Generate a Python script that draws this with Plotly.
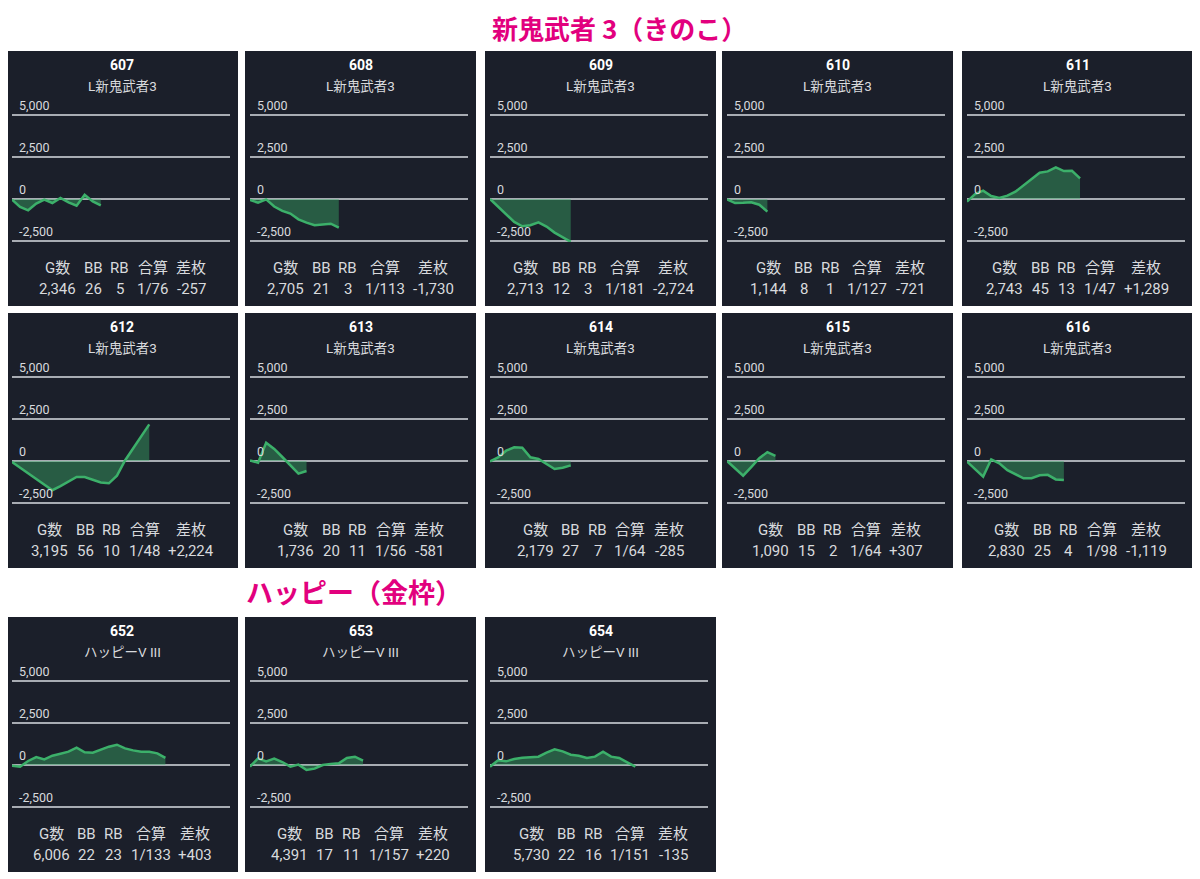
import plotly.graph_objects as go

# the page adds an 8px body margin; the figure is sized and positioned to compensate
PAGE_W, PAGE_H = 1200, 879
OFF = 8
W, H = PAGE_W - OFF, PAGE_H - OFF

# ---------------- data ----------------
machines = ["607", "608", "609", "610", "611", "612", "613", "614", "615", "616", "652", "653", "654"]
models = ["L新鬼武者3"] * 10 + ["ハッピーV III"] * 3
games = ["2,346", "2,705", "2,713", "1,144", "2,743", "3,195", "1,736", "2,179", "1,090", "2,830", "6,006", "4,391", "5,730"]
bb = ["26", "21", "12", "8", "45", "56", "20", "27", "15", "25", "22", "17", "22"]
rb = ["5", "3", "3", "1", "13", "10", "11", "7", "2", "4", "23", "11", "16"]
gassan = ["1/76", "1/113", "1/181", "1/127", "1/47", "1/48", "1/56", "1/64", "1/64", "1/98", "1/133", "1/157", "1/151"]
samai = ["-257", "-1,730", "-2,724", "-721", "+1,289", "+2,224", "-581", "-285", "+307", "-1,119", "+403", "+220", "-135"]
headers = ["G数", "BB", "RB", "合算", "差枚"]

s607 = [-40, -475, -673, -277, -40, -238, 60, -198, -396, 257, -139, -376]
s608 = [-60, -220, -20, -445, -705, -865, -1210, -1410, -1560, -1530, -1470, -1710]
s609 = [0, -455, -911, -1366, -1624, -1564, -1386, -1643, -2000, -2277, -2550]
s610 = [-20, -240, -230, -200, -340, -750]
s611 = [-158, 297, 495, 178, 60, 198, 436, 812, 1168, 1564, 1643, 1881, 1663, 1683, 1228]
s612 = [-59, -388, -719, -1057, -1386, -1740, -1497, -1228, -950, -950, -1117, -1279, -1327, -871, 30, 752, 1465, 2178]
s613 = [40, -100, 1089, 720, 238, -257, -752, -594]
s614 = [-20, 218, 614, 812, 792, 218, 119, -198, -480, -400, -260]
s615 = [0, -436, -871, -364, 162, 530, 307]
s616 = [-40, -485, -931, 100, -139, -545, -792, -1030, -1020, -851, -825, -1097, -1129]
s652 = [-40, -99, 238, 475, 337, 554, 673, 792, 1030, 752, 733, 931, 1089, 1208, 990, 871, 792, 792, 693, 420]
s653 = [-99, 396, 218, 376, 178, -99, 20, -297, -218, 0, 59, 99, 416, 495, 257]
s654 = [-99, 277, 218, 356, 436, 455, 495, 733, 931, 812, 614, 554, 416, 495, 792, 495, 416, 158, -99]
series = [s607, s608, s609, s610, s611, s612, s613, s614, s615, s616, s652, s653, s654]

y_tickvals = [-2500, 0, 2500, 5000]
y_ticktext = ["-2,500", "0", "2,500", "5,000"]
section_titles = ["新鬼武者 3（きのこ）", "ハッピー（金枠）"]

# ---------------- style ----------------
FONT = "Roboto, 'Noto Sans CJK JP', 'Noto Sans', sans-serif"
TITLE_FONT = "'Noto Sans CJK JP', 'Noto Sans', sans-serif"
PANEL_BG = "#1b1f2a"
GRID = "#a8acb3"
TEXT = "#d8dadd"
LINE = "#3cb06a"
FILL = "rgba(60,176,106,0.42)"
MAGENTA = "#e2007e"

panel_w, panel_h = 231, 255
col_left = [7, 245, 485, 722, 962]
row_top = [51, 313, 617]
positions = [(0, c) for c in range(5)] + [(1, c) for c in range(5)] + [(2, c) for c in range(3)]
X_SLOTS = 27
UNITS_PER_PX = 2500 / 42.0
Y_MIN, Y_MAX = -2560, 6300


def fx(px):
    return (px - OFF) / W


def fy(py):
    return 1 - (py - OFF) / H


def text_w(s):
    w = 0
    for ch in s:
        if ch.isdigit():
            w += 8.4
        elif ch == ",":
            w += 3.2
        elif ch == "/":
            w += 6.0
        elif ch == "-":
            w += 4.5
        elif ch == "+":
            w += 8.5
        elif ch in "BR":
            w += 9.3
        elif ch == "G":
            w += 10.2
        else:
            w += 15
    return w


fig = go.Figure()
shapes = []
annotations = []
layout_axes = {}

for i, (m, model, ser) in enumerate(zip(machines, models, series)):
    r, c = positions[i]
    left = col_left[c]
    top = row_top[r]
    k = i + 1
    xname = "x" if k == 1 else f"x{k}"
    yname = "y" if k == 1 else f"y{k}"
    xkey = "xaxis" if k == 1 else f"xaxis{k}"
    ykey = "yaxis" if k == 1 else f"yaxis{k}"

    shapes.append(dict(type="rect", xref="paper", yref="paper",
                       x0=fx(left), x1=fx(left + panel_w), y0=fy(top + panel_h), y1=fy(top),
                       fillcolor=PANEL_BG, line=dict(width=0), layer="below"))

    zero_y = top + 148
    dom_top = zero_y - Y_MAX / UNITS_PER_PX
    dom_bot = zero_y - Y_MIN / UNITS_PER_PX
    layout_axes[xkey] = dict(domain=[fx(left + 5), fx(left + 223)], range=[0, X_SLOTS],
                             visible=False, fixedrange=True, anchor=yname)
    layout_axes[ykey] = dict(domain=[fy(dom_bot), fy(dom_top)], range=[Y_MIN, Y_MAX],
                             tickvals=y_tickvals, ticktext=y_ticktext,
                             showgrid=True, gridcolor=GRID, gridwidth=1.5,
                             zeroline=False, showline=False, ticks="",
                             ticklabelposition="inside", ticklabelshift=-9, ticklabelstandoff=4,
                             tickfont=dict(family=FONT, size=12.5, color=TEXT),
                             fixedrange=True, anchor=xname)

    fig.add_trace(go.Scatter(x=list(range(len(ser))), y=ser, mode="lines",
                             line=dict(color=LINE, width=2.5), fill="tozeroy", fillcolor=FILL,
                             xaxis=xname, yaxis=yname, showlegend=False, hoverinfo="skip"))

    cx = left + panel_w / 2
    annotations.append(dict(text=f"<b>{m}</b>", x=fx(cx), y=fy(top + 14), xref="paper", yref="paper",
                            showarrow=False, xanchor="center", yanchor="middle",
                            font=dict(family=FONT, size=14, color="#ffffff")))
    annotations.append(dict(text=model, x=fx(cx), y=fy(top + 35), xref="paper", yref="paper",
                            showarrow=False, xanchor="center", yanchor="middle",
                            font=dict(family=FONT, size=13.5, color=TEXT)))

    vals = [games[i], bb[i], rb[i], gassan[i], samai[i]]
    widths = [max(text_w(h), text_w(v)) for h, v in zip(headers, vals)]
    gap = 8
    total = sum(widths) + gap * (len(widths) - 1)
    xx = left + (panel_w - total) / 2
    for h, v, w in zip(headers, vals, widths):
        ccx = xx + w / 2
        annotations.append(dict(text=h, x=fx(ccx), y=fy(top + 217), xref="paper", yref="paper",
                                showarrow=False, xanchor="center", yanchor="middle",
                                font=dict(family=FONT, size=15, color=TEXT)))
        annotations.append(dict(text=v, x=fx(ccx), y=fy(top + 238), xref="paper", yref="paper",
                                showarrow=False, xanchor="center", yanchor="middle",
                                font=dict(family=FONT, size=15, color=TEXT)))
        xx += w + gap

annotations.append(dict(text=f"<b>{section_titles[0]}</b>", x=fx(619), y=1, xref="paper", yref="paper",
                        showarrow=False, xanchor="center", yanchor="top", borderpad=0,
                        font=dict(family=TITLE_FONT, size=26, color=MAGENTA)))
annotations.append(dict(text=f"<b>{section_titles[1]}</b>", x=fx(244), y=fy(591), xref="paper", yref="paper",
                        showarrow=False, xanchor="left", yanchor="middle",
                        font=dict(family=TITLE_FONT, size=27, color=MAGENTA)))

fig.update_layout(width=W, height=H, margin=dict(l=0, r=0, t=0, b=0),
                  paper_bgcolor="#ffffff", plot_bgcolor="rgba(0,0,0,0)",
                  shapes=shapes, annotations=annotations, showlegend=False,
                  **layout_axes)

fig.write_html("out.html", config={"displayModeBar": False})
